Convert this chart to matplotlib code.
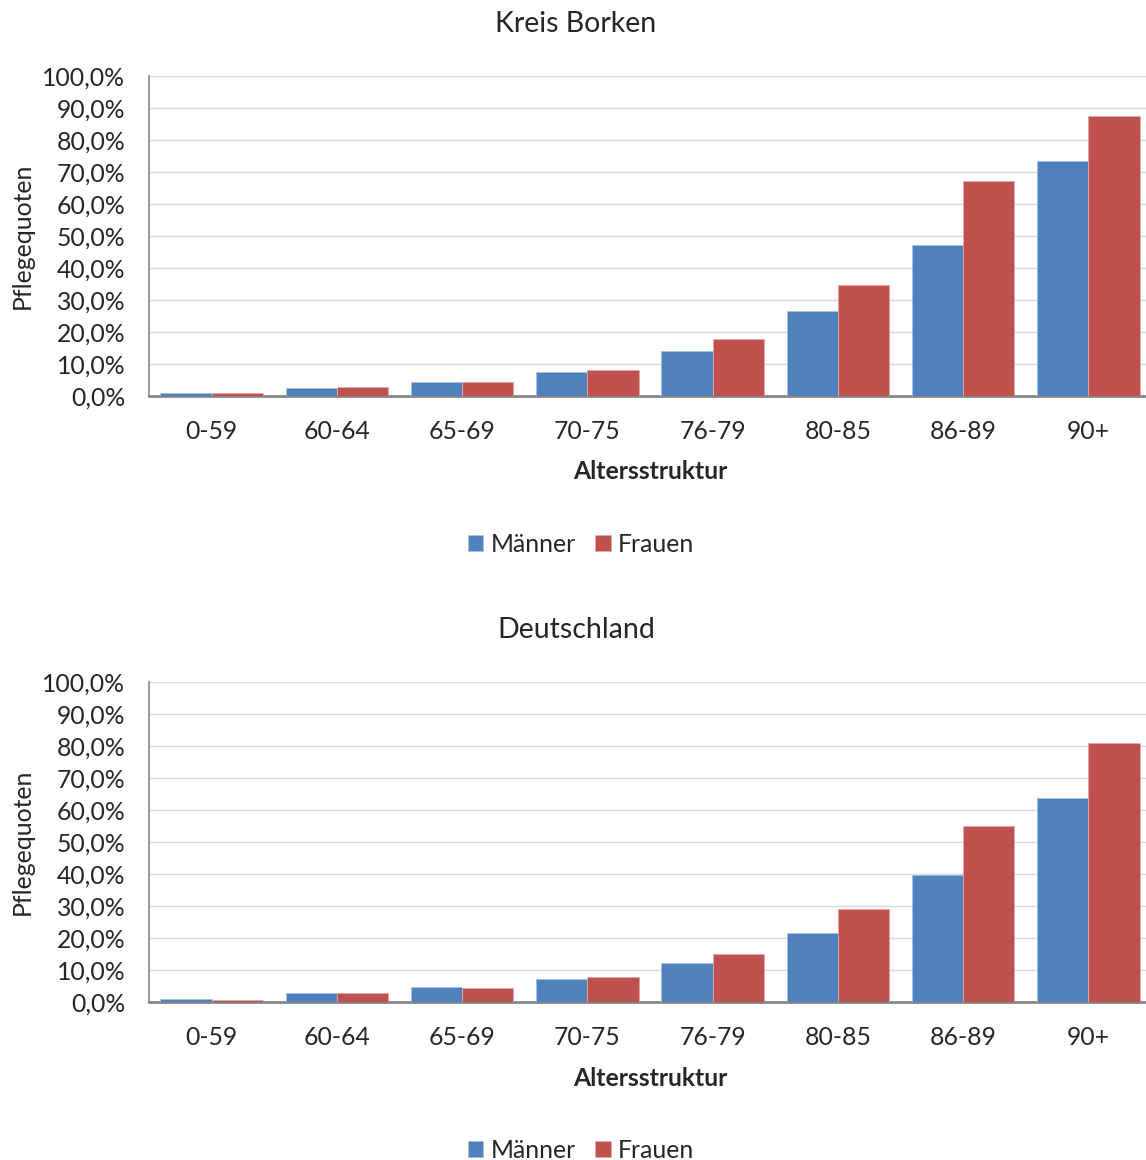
import matplotlib
matplotlib.use("Agg")
import matplotlib.pyplot as plt
from matplotlib.ticker import FuncFormatter, MultipleLocator
import numpy as np

plt.rcParams['font.family'] = ['Lato', 'DejaVu Sans']

categories = ["0-59", "60-64", "65-69", "70-75", "76-79", "80-85", "86-89", "90+"]
borken_maenner = [1.05, 2.6, 4.3, 7.6, 14.2, 26.5, 47.3, 73.5]
borken_frauen = [0.85, 2.8, 4.4, 8.2, 17.7, 34.8, 67.3, 87.6]
de_maenner = [0.96, 2.8, 4.7, 7.2, 12.2, 21.7, 39.6, 63.8]
de_frauen = [0.75, 2.7, 4.4, 7.7, 15.0, 29.0, 55.0, 80.9]
titles = ["Kreis Borken", "Deutschland"]
series_names = ["Männer", "Frauen"]

BLUE = "#4F81BD"
RED = "#C0504D"
TEXT = "#262626"
FS = 17.8

W, H = 1146, 1160
fig = plt.figure(figsize=(W / 100, H / 100), dpi=100)


def fx(px):
    return px / W


def fy(py):
    return 1 - py / H


def draw_panel(top_px, title, men, women):
    ax_left, ax_right = 149, 1151
    ax_top, ax_bottom = top_px, top_px + 320
    ax = fig.add_axes([fx(ax_left), fy(ax_bottom), fx(ax_right - ax_left),
                       (ax_bottom - ax_top) / H])
    x = np.arange(len(categories))
    bw = 0.41
    ax.bar(x - bw / 2, men, width=bw, color=BLUE, edgecolor="#a7bfde",
           linewidth=0.6, label=series_names[0], zorder=3)
    ax.bar(x + bw / 2, women, width=bw, color=RED, edgecolor="#e0a9a8",
           linewidth=0.6, label=series_names[1], zorder=3)
    ax.set_xlim(-0.5, len(categories) - 0.5)
    ax.set_ylim(0, 100)
    ax.yaxis.set_major_locator(MultipleLocator(10))
    ax.yaxis.set_major_formatter(
        FuncFormatter(lambda v, p: f"{v:.1f}%".replace(".", ",")))
    ax.set_xticks(x)
    ax.set_xticklabels(categories)
    ax.tick_params(axis="both", length=0, labelsize=FS, colors=TEXT)
    ax.tick_params(axis="x", pad=17)
    ax.tick_params(axis="y", pad=17)
    ax.grid(axis="y", color="#d9d9d9", linewidth=1.0, zorder=0)
    ax.set_axisbelow(True)
    for s in ("top", "right"):
        ax.spines[s].set_visible(False)
    ax.spines["left"].set_color("#868686")
    ax.spines["left"].set_linewidth(1.2)
    ax.spines["bottom"].set_color("#868686")
    ax.spines["bottom"].set_linewidth(2.0)

    fig.text(fx(576), fy(top_px - 52), title, ha="center", va="center",
             fontsize=20.5, color=TEXT)
    fig.text(fx(650), fy(top_px + 396), "Altersstruktur", ha="center",
             va="center", fontsize=FS, fontweight="bold", color=TEXT)
    fig.text(fx(22), fy(top_px + 160), "Pflegequoten", ha="center",
             va="center", rotation=90, fontsize=FS, color=TEXT)
    handles, labels = ax.get_legend_handles_labels()
    fig.legend(handles, labels, loc="center", ncol=2,
               bbox_to_anchor=(fx(581), fy(top_px + 468)), frameon=False,
               fontsize=FS, handlelength=0.62, handleheight=0.62,
               handletextpad=0.3, columnspacing=0.8, labelcolor=TEXT)
    return ax


draw_panel(76, titles[0], borken_maenner, borken_frauen)
draw_panel(682, titles[1], de_maenner, de_frauen)

fig.savefig("out.png", dpi=100, facecolor="white")
